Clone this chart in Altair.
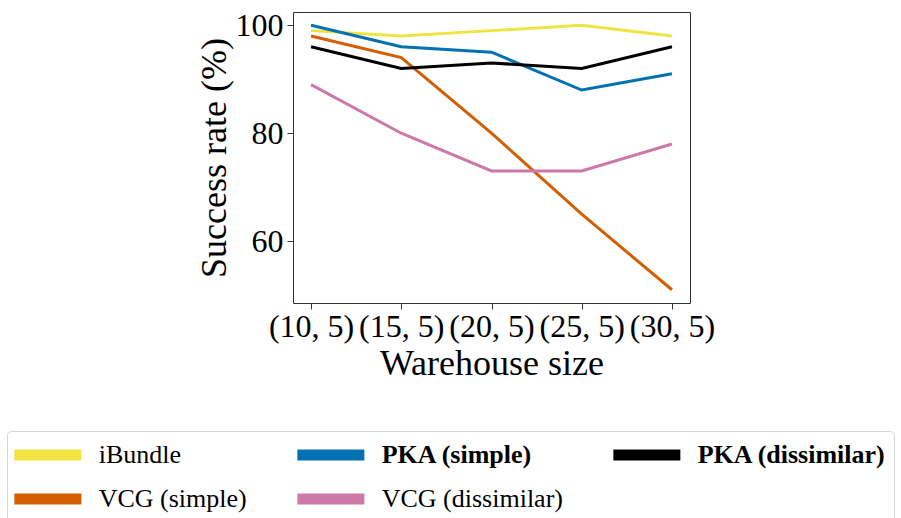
import altair as alt
import pandas as pd

sizes = ["(10, 5)", "(15, 5)", "(20, 5)", "(25, 5)", "(30, 5)"]
series_names = ["iBundle", "VCG (simple)", "PKA (simple)", "VCG (dissimilar)", "PKA (dissimilar)"]
ibundle = [99, 98, 99, 100, 98]
vcg_simple = [98, 94, 80, 65, 51]
pka_simple = [100, 96, 95, 88, 91]
vcg_dissimilar = [89, 80, 73, 73, 78]
pka_dissimilar = [96, 92, 93, 92, 96]

legend_order = ["iBundle", "PKA (simple)", "PKA (dissimilar)", "VCG (simple)", "VCG (dissimilar)"]
legend_colors = ["#F0E442", "#0072B2", "#000000", "#D55E00", "#CC79A7"]

values = [ibundle, vcg_simple, pka_simple, vcg_dissimilar, pka_dissimilar]
rows = []
for name, vals in zip(series_names, values):
    for i, (s, v) in enumerate(zip(sizes, vals)):
        rows.append({"method": name, "size": s, "idx": i, "rate": v})
df = pd.DataFrame(rows)

FONT = "Liberation Serif"

chart = alt.Chart(df).mark_line(strokeWidth=3).encode(
    x=alt.X("size:N", sort=sizes, scale=alt.Scale(type="point", padding=0.2),
            axis=alt.Axis(title="Warehouse size", labelAngle=0, labelPadding=2,
                          titlePadding=4)),
    y=alt.Y("rate:Q", scale=alt.Scale(domain=[48.55, 102.45], nice=False, zero=False),
            axis=alt.Axis(title="Success rate (%)", values=[60, 80, 100],
                          labelPadding=4, titlePadding=2)),
    color=alt.Color("method:N", sort=legend_order,
                    scale=alt.Scale(domain=legend_order, range=legend_colors),
                    legend=alt.Legend(
                        title=None, orient="none", legendX=-286, legendY=419,
                        direction="horizontal", columns=3, columnPadding=28, rowPadding=0,
                        symbolType="M-3,0H3", symbolSize=499, symbolStrokeWidth=11,
                        symbolOffset=16.85,
                        labelOffset=33.85, labelFont=FONT, labelFontSize=26, labelColor="#000",
                        labelLimit=0,
                        labelFontWeight={"expr": "indexof(datum.value, 'PKA') >= 0 ? 'bold' : 'normal'"},
                        strokeColor="#d6d6d6", fillColor="white", cornerRadius=4, padding=7,
                    )),
    order="idx:Q",
).properties(
    width=397, height=291,
    padding={"left": 293, "top": 12, "right": 211, "bottom": 215},
    autosize=alt.AutoSizeParams(type="none"),
).configure_view(
    stroke="#333333", strokeWidth=1
).configure_axis(
    domain=False, grid=False, tickColor="#333333", tickSize=6, tickWidth=1,
    labelFont=FONT, labelFontSize=32, labelColor="#000",
    titleFont=FONT, titleFontSize=36, titleColor="#000", titleFontWeight="normal",
)

chart.save("out.html", embed_options={"renderer": "svg", "actions": False})
